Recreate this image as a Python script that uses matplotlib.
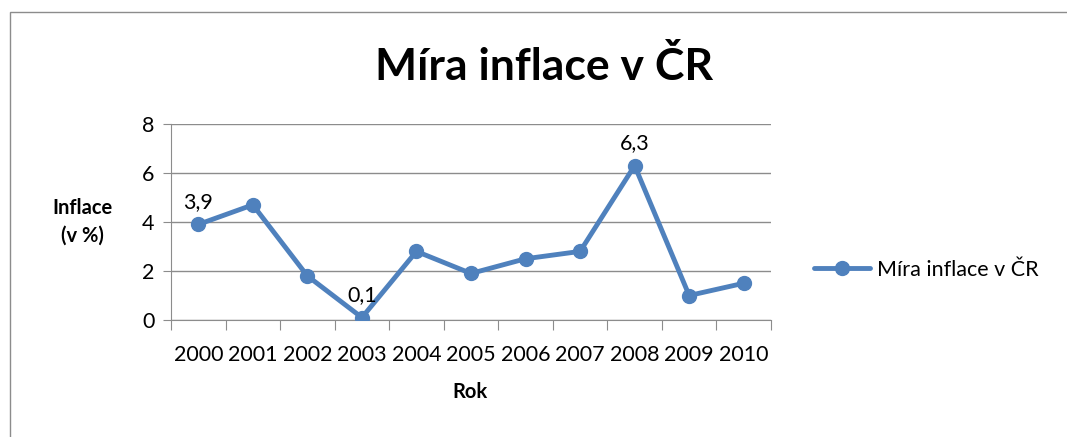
import matplotlib
matplotlib.use("Agg")
import matplotlib.pyplot as plt
from matplotlib.patches import Rectangle

years = ["2000", "2001", "2002", "2003", "2004", "2005", "2006", "2007", "2008", "2009", "2010"]
inflation = [3.9, 4.7, 1.8, 0.1, 2.8, 1.9, 2.5, 2.8, 6.3, 1.0, 1.5]
labelled = [0, 3, 8]
series_name = "Míra inflace v ČR"

plt.rcParams['font.family'] = ['Lato', 'DejaVu Sans']
blue = "#4F81BD"
grid = "#8C8C8C"

fig = plt.figure(figsize=(10.67, 4.37), dpi=100)
W, H = 1067, 437
fig.patches.append(Rectangle((10 / W, -0.1), 1.2, 1 - 12 / H + 0.1, transform=fig.transFigure,
                             fill=False, edgecolor="#8C8C8C", linewidth=1))

ax = fig.add_axes([171 / W, 1 - 320 / H, 600 / W, 196 / H])
x = list(range(len(years)))
ax.plot(x, inflation, color=blue, linewidth=3.5, marker="o", markersize=10, label=series_name,
        solid_capstyle="round", zorder=3)

for i in labelled:
    ax.annotate(f"{inflation[i]:.1f}".replace(".", ","), (x[i], inflation[i]),
                xytext=(0, 9), textcoords="offset points", ha="center", va="bottom", fontsize=15.5)

ax.set_xlim(-0.5, len(years) - 0.5)
ax.set_ylim(0, 8)
ax.set_yticks([0, 2, 4, 6, 8])
ax.set_xticks([i - 0.5 for i in range(len(years) + 1)], minor=False)
ax.set_xticklabels([])
ax.set_xticks(x, minor=True)
ax.set_xticklabels(years, minor=True, fontsize=15.5)
ax.tick_params(axis="x", which="minor", length=0, pad=18)
ax.tick_params(axis="x", which="major", length=7, color=grid, direction="out")
ax.tick_params(axis="y", length=6, color=grid, labelsize=15.5, pad=6)
ax.grid(axis="y", color=grid, linewidth=1)
for s in ["top", "right"]:
    ax.spines[s].set_visible(False)
ax.spines["left"].set_color(grid)
ax.spines["bottom"].set_color(grid)
ax.set_axisbelow(True)

fig.text(544 / W, 1 - 66 / H, "Míra inflace v ČR", ha="center", va="center", fontsize=32, fontweight="bold")
fig.text(82 / W, 1 - 222 / H, "Inflace\n(v %)", ha="center", va="center", fontsize=14.5,
         fontweight="bold", linespacing=1.45)
fig.text(470 / W, 1 - 392 / H, "Rok", ha="center", va="center", fontsize=14.5, fontweight="bold")

fig.legend(loc="center left", bbox_to_anchor=(795 / W, 1 - 270 / H), frameon=False, fontsize=15.5,
           handlelength=2.6, handletextpad=0.3)

fig.savefig("out.png", dpi=100)
